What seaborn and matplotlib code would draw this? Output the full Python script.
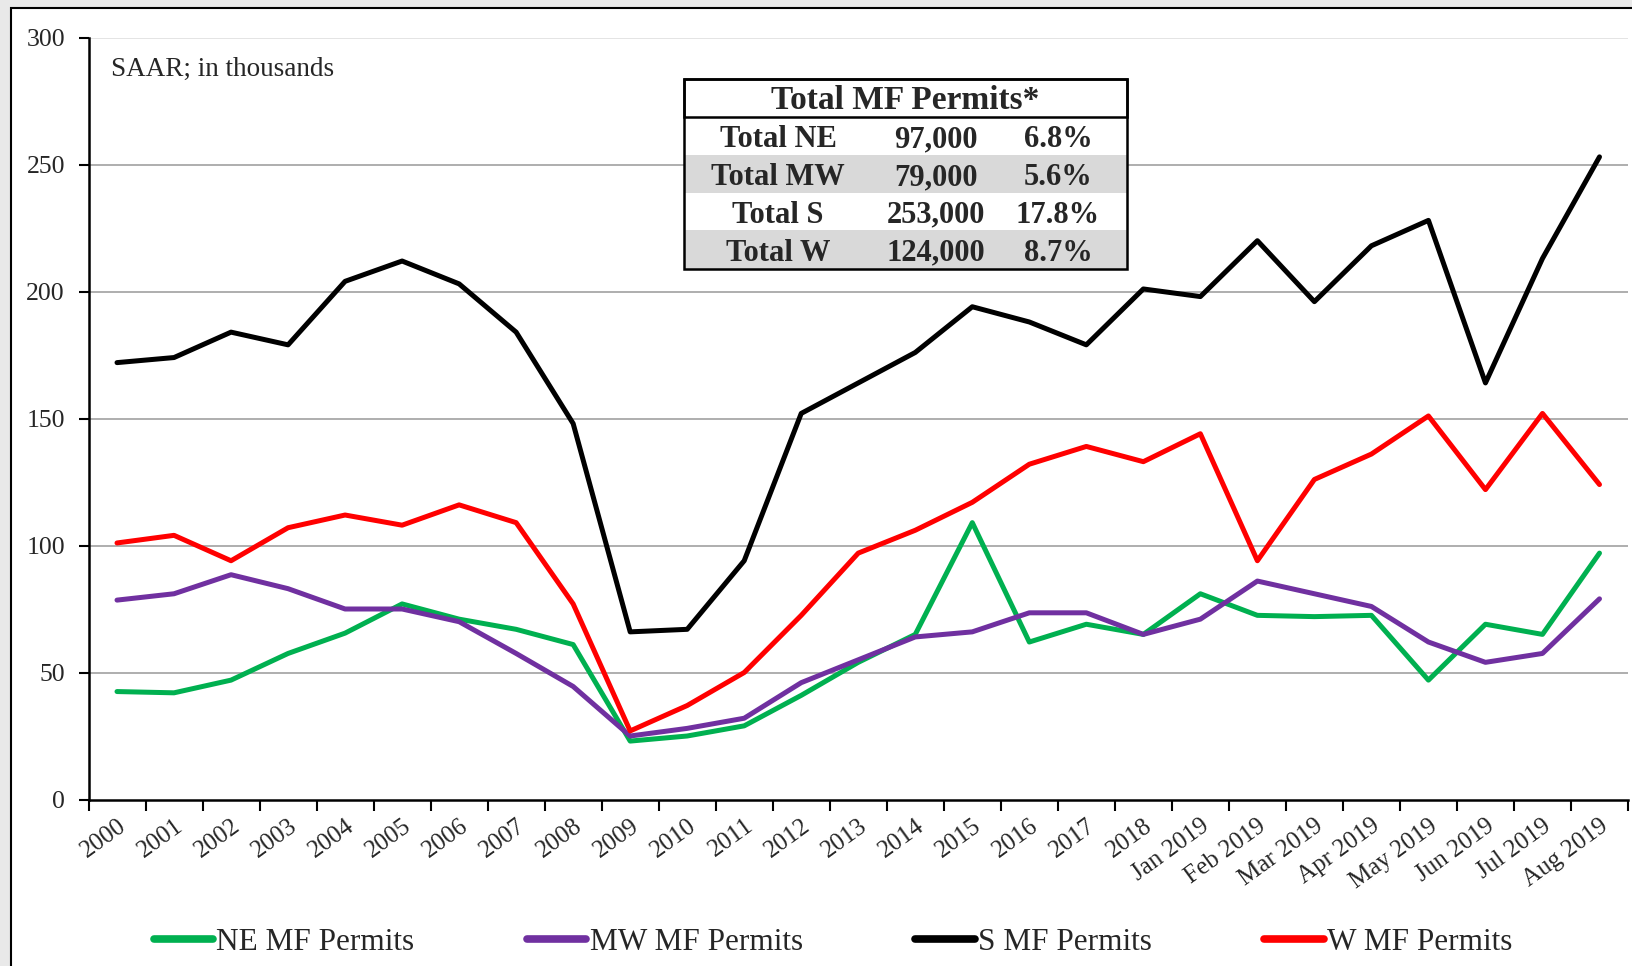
import matplotlib
matplotlib.use('Agg')
import matplotlib.pyplot as plt
import seaborn as sns
import pandas as pd
import numpy as np
from matplotlib.patches import Rectangle
from matplotlib.lines import Line2D

# data (thousands, SAAR)
periods = ['2000', '2001', '2002', '2003', '2004', '2005', '2006', '2007', '2008',
           '2009', '2010', '2011', '2012', '2013', '2014', '2015', '2016', '2017',
           '2018', 'Jan 2019', 'Feb 2019', 'Mar 2019', 'Apr 2019', 'May 2019',
           'Jun 2019', 'Jul 2019', 'Aug 2019']
ne = [42.5, 42, 47, 57.5, 65.5, 77, 71, 67, 61, 23, 25, 29, 41, 54, 65, 109,
      62, 69, 65, 81, 72.5, 72, 72.5, 47, 69, 65, 97]
mw = [78.5, 81, 88.5, 83, 75, 75, 70, 57.5, 44.5, 25, 28, 32, 46, 55, 64, 66,
      73.5, 73.5, 65, 71, 86, 81, 76, 62, 54, 57.5, 79]
s = [172, 174, 184, 179, 204, 212, 203, 184, 148, 66, 67, 94, 152, 164, 176, 194,
     188, 179, 201, 198, 220, 196, 218, 228, 164, 213, 253]
w = [101, 104, 94, 107, 112, 108, 116, 109, 77, 27, 37, 50, 72.5, 97, 106, 117,
     132, 139, 133, 144, 94, 126, 136, 151, 122, 152, 124]
series_names = ['NE MF Permits', 'MW MF Permits', 'S MF Permits', 'W MF Permits']
colors = ['#00B050', '#7030A0', '#000000', '#FF0000']

table_title = 'Total MF Permits*'
table_rows = ['Total NE', 'Total MW', 'Total S', 'Total W']
table_units = ['97,000', '79,000', '253,000', '124,000']
table_shares = ['6.8%', '5.6%', '17.8%', '8.7%']

rows = []
for name, vals in zip(series_names, [ne, mw, s, w]):
    for i, v in enumerate(vals):
        rows.append({'pos': i, 'value': v, 'series': name})
df = pd.DataFrame(rows)

sns.set_theme(style='white')
plt.rcParams['font.family'] = ['Liberation Serif', 'DejaVu Serif']

W, H = 1632, 966
fig = plt.figure(figsize=(W / 100, H / 100), dpi=100, facecolor='#e9e9e9')

def fx(x):
    return x / W

def fy(y):
    return 1 - y / H

# chart frame
fig.add_artist(Rectangle((fx(11), fy(1000)), fx(1700), fy(8) - fy(1000),
                         transform=fig.transFigure, facecolor='white',
                         edgecolor='black', lw=1.5, zorder=0))

ax = fig.add_axes([fx(88.5), fy(799.5), fx(1628) - fx(88.5), fy(37.5) - fy(799.5)])
ax.set_facecolor('none')

sns.lineplot(data=df, x='pos', y='value', hue='series', hue_order=series_names,
             palette=colors, lw=3.6, sort=False, legend=False, ax=ax)
for ln in ax.lines:
    ln.set_solid_joinstyle('round')
    ln.set_solid_capstyle('round')

ax.set_xlim(-0.5, len(periods) - 0.5)
ax.set_ylim(0, 300)
ax.set_xlabel('')
ax.set_ylabel('')

# gridlines
for yv in [50, 100, 150, 200, 250]:
    ax.axhline(yv, color='#a8a8a8', lw=1.3, zorder=0)
ax.axhline(300, color='#e2e2e2', lw=1.3, zorder=0)

for sp in ['top', 'right']:
    ax.spines[sp].set_visible(False)
for sp in ['left', 'bottom']:
    ax.spines[sp].set_color('black')
    ax.spines[sp].set_linewidth(1.8)

ax.set_yticks([0, 50, 100, 150, 200, 250, 300])
ax.tick_params(axis='y', which='major', direction='out', length=7, width=1.5,
               color='black', pad=10, labelsize=18.5, left=True)

ax.set_xticks(np.arange(-0.5, len(periods), 1.0))
ax.set_xticklabels([])
ax.set_xticks(np.arange(len(periods)), minor=True)
ax.set_xticklabels(periods, minor=True, rotation=36, ha='right', va='top',
                   rotation_mode='anchor')
ax.tick_params(axis='x', which='major', direction='out', length=8, width=1.5,
               color='black', bottom=True)
ax.tick_params(axis='x', which='minor', length=0, pad=11, labelsize=18, bottom=True)

fig.text(fx(111), fy(69), 'SAAR; in thousands', fontsize=19.5, va='center', ha='left')

# inset table
tx0, tx1 = 684, 1127
edges = [79, 116.6, 155.1, 192.6, 230, 268.5]
for k in range(4):
    shade = '#d9d9d9' if k % 2 == 1 else 'white'
    fig.add_artist(Rectangle((fx(tx0), fy(edges[k + 2])), fx(tx1) - fx(tx0),
                             fy(edges[k + 1]) - fy(edges[k + 2]),
                             transform=fig.transFigure, facecolor=shade,
                             edgecolor='none', zorder=2))
fig.add_artist(Rectangle((fx(tx0), fy(edges[1])), fx(tx1) - fx(tx0),
                         fy(edges[0]) - fy(edges[1]), transform=fig.transFigure,
                         facecolor='white', edgecolor='black', lw=1.8, zorder=3))
fig.add_artist(Rectangle((fx(tx0), fy(edges[-1])), fx(tx1) - fx(tx0),
                         fy(edges[0]) - fy(edges[-1]), transform=fig.transFigure,
                         facecolor='none', edgecolor='black', lw=1.8, zorder=4))
fig.text(fx((tx0 + tx1) / 2), fy((edges[0] + edges[1]) / 2 + 3), table_title,
         fontsize=24, fontweight='bold', ha='center', va='center', zorder=5)
for k in range(4):
    yc = fy((edges[k + 1] + edges[k + 2]) / 2 + 4)
    fig.text(fx(778), yc, table_rows[k], fontsize=22, fontweight='bold',
             ha='center', va='center', zorder=5)
    fig.text(fx(936), yc, table_units[k], fontsize=22, fontweight='bold',
             ha='center', va='center', zorder=5)
    fig.text(fx(1058), yc, table_shares[k], fontsize=22, fontweight='bold',
             ha='center', va='center', zorder=5)

# legend
handles = [Line2D([0], [0], color=c, lw=5.5, solid_capstyle='round') for c in colors]
fig.legend(handles, series_names, loc='center', bbox_to_anchor=(fx(833), fy(942)),
           ncol=4, frameon=False, fontsize=22.5, handlelength=1.9, handletextpad=0.1,
           columnspacing=3.6)

fig.savefig('out.png', dpi=100, facecolor=fig.get_facecolor())
